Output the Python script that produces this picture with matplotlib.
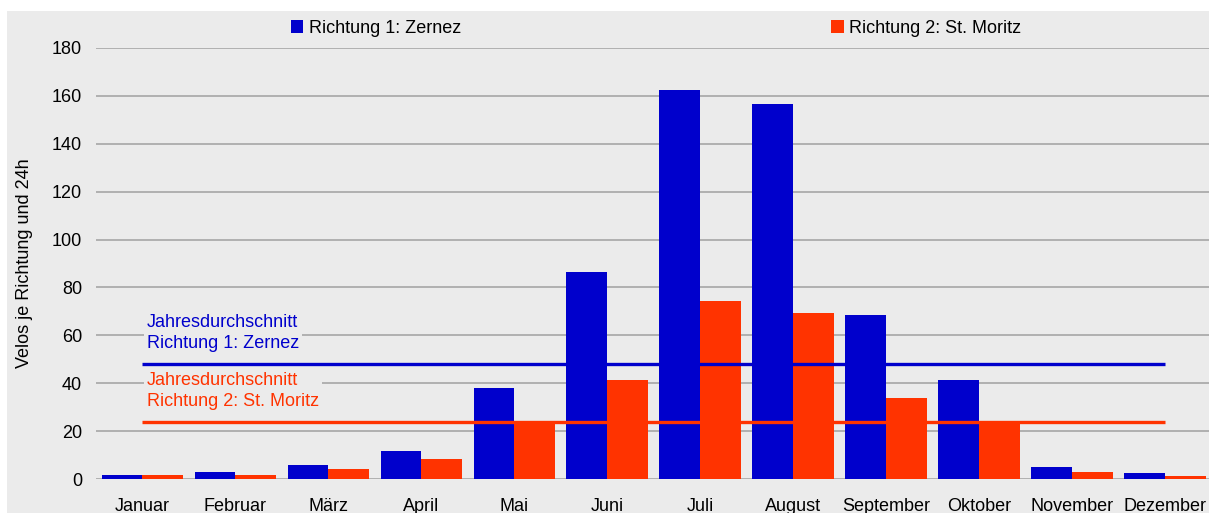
import matplotlib.pyplot as plt
import matplotlib.patches as mpatches
import numpy as np

plt.rcParams["font.family"] = ["Liberation Sans", "DejaVu Sans"]

months = ["Januar", "Februar", "März", "April", "Mai", "Juni", "Juli",
          "August", "September", "Oktober", "November", "Dezember"]
zernez = [1.8, 3.0, 5.9, 11.8, 38.1, 86.5, 162.4, 156.6, 68.5, 41.4, 5.1, 2.6]
moritz = [1.8, 1.8, 4.2, 8.4, 24.3, 41.4, 74.4, 69.4, 33.9, 24.0, 3.0, 1.3]
avg_zernez = 48.1
avg_moritz = 23.6
label_zernez = "Richtung 1: Zernez"
label_moritz = "Richtung 2: St. Moritz"

blue = "#0000CC"
red = "#FF3300"
bg = "#EBEBEB"
fs = 13

fig = plt.figure(figsize=(12.09, 5.13), dpi=100)
fig.patch.set_facecolor("white")
fig.patches.append(mpatches.Rectangle((7 / 1209, 0), 1, 1 - 11 / 513,
                                      transform=fig.transFigure,
                                      facecolor=bg, edgecolor="none", zorder=-10))

ax = fig.add_axes([96 / 1209, 34 / 513, 1 - 96 / 1209, 431 / 513])
ax.set_facecolor(bg)

x = np.arange(len(months))
w = 0.44
ax.bar(x - w / 2, zernez, w, color=blue, label=label_zernez, zorder=3)
ax.bar(x + w / 2, moritz, w, color=red, label=label_moritz, zorder=3)

ax.hlines(avg_zernez, 0, 11, color=blue, lw=2.4, zorder=4)
ax.hlines(avg_moritz, 0, 11, color=red, lw=2.4, zorder=4)

ax.text(0.05, 61.0, "Jahresdurchschnitt\nRichtung 1: Zernez", color=blue,
        fontsize=fs, ha="left", va="center", linespacing=1.32, zorder=5,
        bbox=dict(facecolor=bg, edgecolor="none", pad=2))
ax.text(0.05, 36.6, "Jahresdurchschnitt\nRichtung 2: St. Moritz", color=red,
        fontsize=fs, ha="left", va="center", linespacing=1.32, zorder=5,
        bbox=dict(facecolor=bg, edgecolor="none", pad=2))

ax.set_xlim(-0.5, 11.47)
ax.set_ylim(0, 180)
ax.set_yticks(range(0, 181, 20))
ax.set_xticks(x)
ax.set_xticklabels(months)
ax.yaxis.grid(True, color="#A0A0A0", lw=1.1, zorder=0)
ax.set_axisbelow(True)
for s in ax.spines.values():
    s.set_visible(False)
ax.tick_params(axis="both", length=0, labelsize=fs, colors="black")
ax.tick_params(axis="x", pad=13.5)
ax.tick_params(axis="y", pad=10)
ax.set_ylabel("Velos je Richtung und 24h", fontsize=fs)
ax.yaxis.set_label_coords(-0.057, 0.5)

leg = ax.legend(loc="center", bbox_to_anchor=(0.503, 1.046), ncol=2,
                frameon=False, fontsize=fs, handlelength=0.7, handleheight=0.7,
                handletextpad=0.3, columnspacing=20.5, borderaxespad=0)

fig.savefig("out.png", dpi=100, facecolor=fig.get_facecolor())
